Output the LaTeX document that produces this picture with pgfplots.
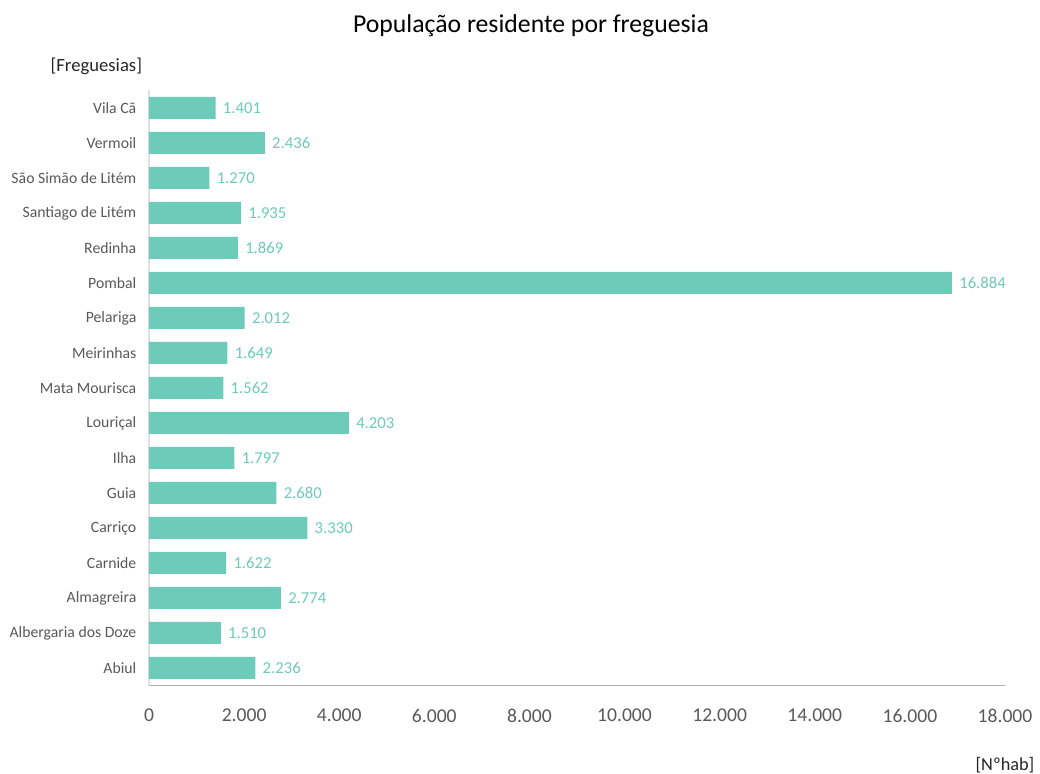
\documentclass[border=0pt]{standalone}
\usepackage{pgfplots}
\pgfplotsset{compat=1.18}
\usepackage{fontspec}
\setmainfont{Carlito}
\definecolor{barc}{HTML}{6CCBB9}
\definecolor{txtg}{HTML}{595959}
\begin{document}
\begin{tikzpicture}
\path[use as bounding box] (-111.75pt,-66.375pt) rectangle (668.25pt,514.125pt);
\begin{axis}[
  at={(0pt,0pt)}, anchor=south west,
  scale only axis, width=642pt, height=446.25pt,
  xmin=0, xmax=18000, ymin=-0.5, ymax=16.5,
  xbar, bar width=16.5pt,
  axis lines=left, axis line style={-},
  x axis line style={draw=black!30},
  y axis line style={draw=black!12, line width=1.2pt},
  major tick length=0pt,
  xtick={0,2000,...,18000},
  ytick={0,...,16},
  yticklabels={Abiul,Albergaria dos Doze,Almagreira,Carnide,Carriço,Guia,Ilha,Louriçal,Mata Mourisca,Meirinhas,Pelariga,Pombal,Redinha,Santiago de Litém,São Simão de Litém,Vermoil,Vila Cã},
  /pgf/number format/assume math mode=true,
  /pgf/number format/.cd, fixed, precision=0, 1000 sep={.}, /pgfplots/.cd,
  scaled x ticks=false,
  xticklabel style={font=\fontsize{14.7}{16}\selectfont, text=txtg, yshift=-14pt},
  yticklabel style={font=\fontsize{11.8}{13}\selectfont, text=txtg, xshift=-6pt},
  nodes near coords,
  every node near coord/.append style={font=\fontsize{12.5}{14}\selectfont, text=barc, anchor=west, xshift=2pt},
  clip=false,
]
\addplot[fill=barc, draw=none] coordinates {
(2236,0) (1510,1) (2774,2) (1622,3) (3330,4) (2680,5) (1797,6) (4203,7) (1562,8) (1649,9) (2012,10) (16884,11) (1869,12) (1935,13) (1270,14) (2436,15) (1401,16)
};
\end{axis}
\node[font=\fontsize{19.3}{22}\selectfont, text=black] at (286.5pt,495pt) {População residente por freguesia};
\node[font=\fontsize{14}{16}\selectfont, text=black!85] at (-39.5pt,464.5pt) {[Freguesias]};
\node[font=\fontsize{13.7}{16}\selectfont, text=black!85, anchor=east] at (667.5pt,-59.6pt) {[Nºhab]};
\end{tikzpicture}
\end{document}
